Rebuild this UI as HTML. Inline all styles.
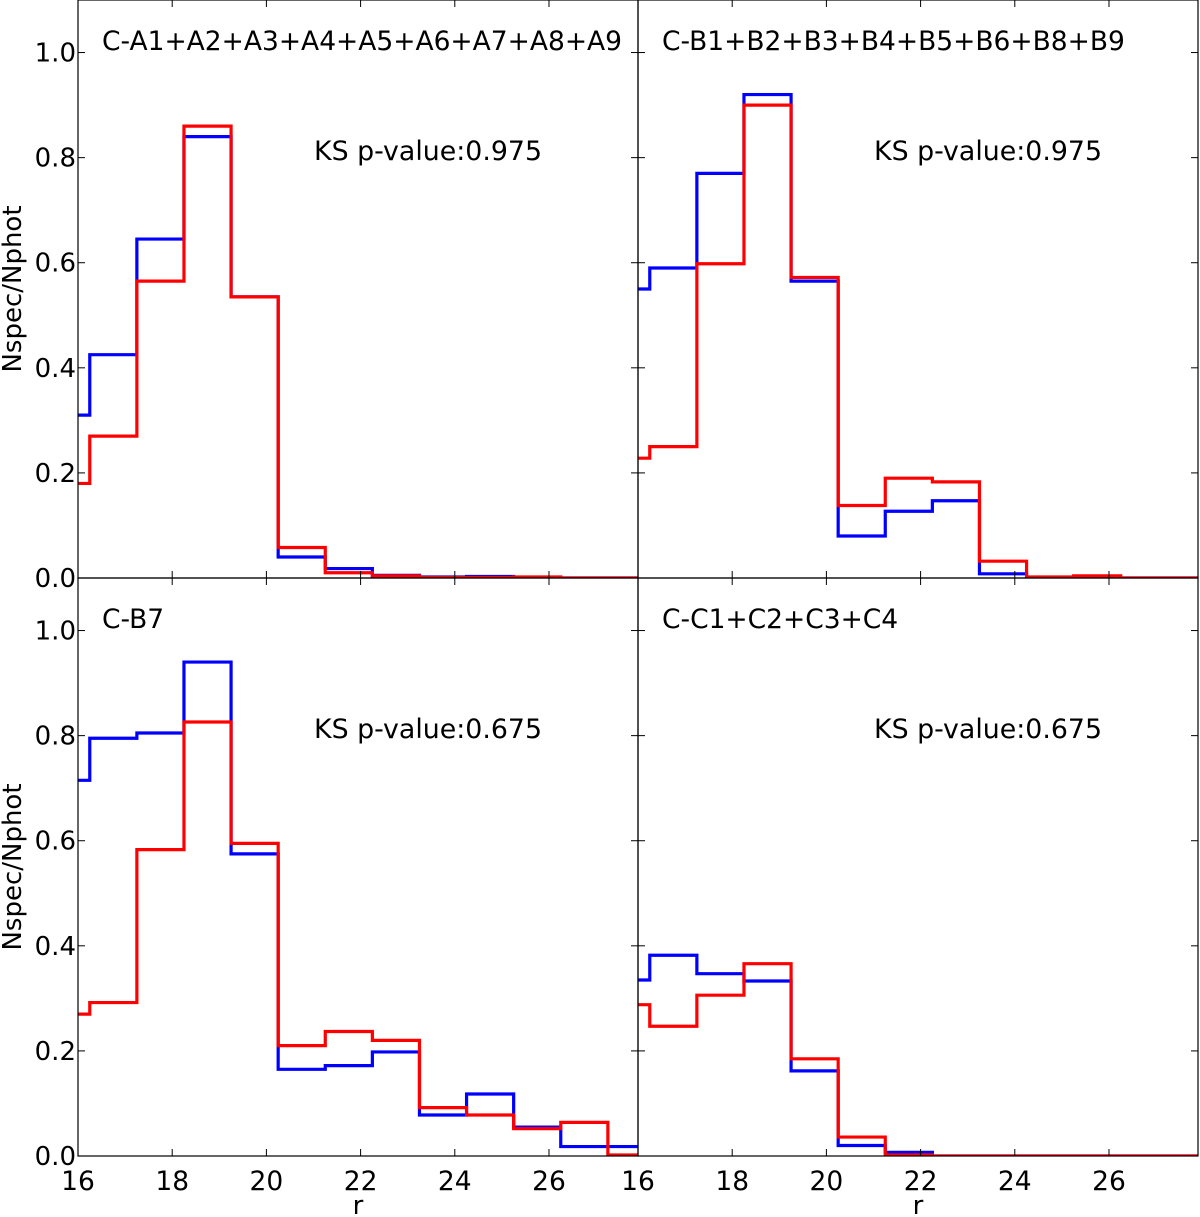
<!DOCTYPE html>
<html><head><meta charset="utf-8"><style>
html,body{margin:0;padding:0;background:#fff}
svg{display:block;font-family:"DejaVu Sans","Liberation Sans",sans-serif}
</style></head><body>
<svg id="c" width="1200" height="1217" viewBox="0 0 1200 1217"></svg>
<script>
const binEdgesStart = 15.25;
const binWidth = 1;
const panelTitles = ["C-A1+A2+A3+A4+A5+A6+A7+A8+A9","C-B1+B2+B3+B4+B5+B6+B8+B9","C-B7","C-C1+C2+C3+C4"];
const ksLabels = ["KS p-value:0.975","KS p-value:0.975","KS p-value:0.675","KS p-value:0.675"];
const blueA = [0.31,0.425,0.645,0.84,0.535,0.04,0.018,0.005,0.002,0.003,0.001,0.0,0.0];
const redA  = [0.18,0.27,0.565,0.86,0.535,0.058,0.01,0.004,0.001,0.001,0.002,0.0,0.0];
const blueB = [0.55,0.59,0.77,0.92,0.565,0.08,0.127,0.147,0.008,0.0,0.0,0.0,0.0];
const redB  = [0.228,0.25,0.598,0.9,0.572,0.138,0.19,0.183,0.032,0.002,0.004,0.0,0.0];
const blueC = [0.715,0.795,0.805,0.94,0.575,0.165,0.172,0.198,0.078,0.118,0.055,0.018,0.018];
const redC  = [0.27,0.292,0.583,0.826,0.595,0.21,0.237,0.22,0.092,0.078,0.052,0.064,0.002];
const blueD = [0.335,0.382,0.347,0.333,0.162,0.02,0.007,0.0,0.0,0.0,0.0,0.0,0.0];
const redD  = [0.288,0.247,0.306,0.366,0.185,0.036,0.002,0.0,0.0,0.0,0.0,0.0,0.0];
const xTicks = [16,18,20,22,24,26];
const yTicks = [0.0,0.2,0.4,0.6,0.8,1.0];
const yTickLabels = ["0.0","0.2","0.4","0.6","0.8","1.0"];

const NS="http://www.w3.org/2000/svg";
const svg=document.getElementById('c');
const XMIN=16, XMAX=27.89, YMIN=0, YMAX=1.1;
const panels=[
 {x0:78,y0:0,blue:blueA,red:redA,name:'panel-a'},
 {x0:638,y0:0,blue:blueB,red:redB,name:'panel-b'},
 {x0:78,y0:578,blue:blueC,red:redC,name:'panel-b7'},
 {x0:638,y0:578,blue:blueD,red:redD,name:'panel-c'}];
const W=560,H=578;
function mk(tag,attrs,parent){const e=document.createElementNS(NS,tag);for(const k in attrs)e.setAttribute(k,attrs[k]);(parent||svg).appendChild(e);return e;}
panels.forEach((p,i)=>{
  const g=mk('g',{});
  
  
  const sx=v=>p.x0+(v-XMIN)/(XMAX-XMIN)*W;
  const sy=v=>p.y0+H-(v-YMIN)/(YMAX-YMIN)*H;
  const cp='cp'+i;
  const cl=mk('clipPath',{id:cp},g); mk('rect',{x:p.x0,y:p.y0,width:W,height:H},cl);
  function step(vals,color,nm){
    let d='';
    vals.forEach((v,k)=>{const a=binEdgesStart+k*binWidth,b=a+binWidth;
      d+=(k===0?'M':'L')+sx(a)+','+sy(v)+'L'+sx(b)+','+sy(v);});
    const path=mk('path',{d:d,fill:'none',stroke:color,'stroke-width':3.2,'clip-path':'url(#'+cp+')'},g);
    
    
  }
  step(p.blue,'#0000ff','blue-series');
  step(p.red,'#ff0000','red-series');
  xTicks.forEach(t=>{const x=sx(t);
    mk('line',{x1:x,x2:x,y1:p.y0+H,y2:p.y0+H-7,stroke:'#000','stroke-width':1},g);
    mk('line',{x1:x,x2:x,y1:p.y0,y2:p.y0+7,stroke:'#000','stroke-width':1},g);
    if(i>=2){const t1=mk('text',{x:x,y:1190,'font-size':26.5,'text-anchor':'middle'},g);t1.textContent=t;
      
      }
  });
  yTicks.forEach((t,k)=>{const y=sy(t);
    mk('line',{x1:p.x0,x2:p.x0+7,y1:y,y2:y,stroke:'#000','stroke-width':1},g);
    mk('line',{x1:p.x0+W,x2:p.x0+W-7,y1:y,y2:y,stroke:'#000','stroke-width':1},g);
    if(i%2===0){const t1=mk('text',{x:p.x0-2,y:y+9,'font-size':26,'text-anchor':'end'},g);t1.textContent=yTickLabels[k];
      
      }
  });
  mk('rect',{x:p.x0,y:p.y0,width:W,height:H,fill:'none',stroke:'#000','stroke-width':1.2},g);
  const tt=mk('text',{x:p.x0+24,y:p.y0+50,'font-size':26.5},g);tt.textContent=panelTitles[i];
  
  
  const ks=mk('text',{x:p.x0+236,y:p.y0+160,'font-size':26.8},g);ks.textContent=ksLabels[i];
  
  
});
[289,867].forEach(y=>{const t=mk('text',{x:0,y:0,'font-size':26,'text-anchor':'middle',transform:'translate(21,'+y+') rotate(-90)'});t.textContent='Nspec/Nphot';
  
  });
[358,918].forEach(x=>{const t=mk('text',{x:x,y:1214,'font-size':26,'text-anchor':'middle'});t.textContent='r';
  
  });
</script>
</body></html>
